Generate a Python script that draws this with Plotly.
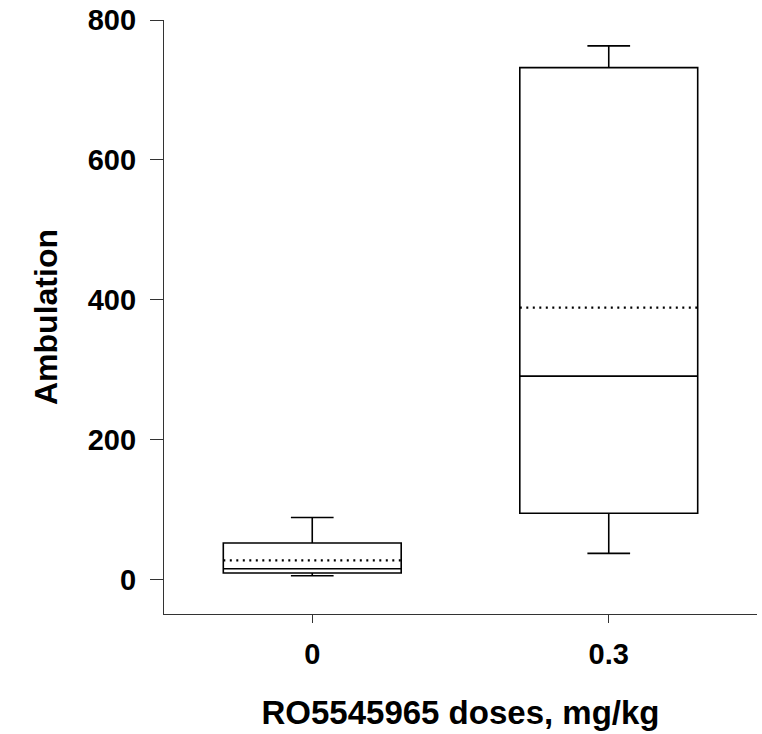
import plotly.graph_objects as go

doses = ["0", "0.3"]
lower = [5.7, 37.6]
q1 = [9.5, 95]
median = [15.7, 291]
q3 = [52.4, 732]
upper = [89, 763]
mean = [27.6, 389]

FONT = "Liberation Sans, Arial, sans-serif"
BOX_WIDTH = 0.6

fig = go.Figure(go.Box(
    x=doses, q1=q1, median=median, q3=q3,
    lowerfence=lower, upperfence=upper,
    boxmean=False, width=BOX_WIDTH, whiskerwidth=0.24,
    fillcolor="rgba(0,0,0,0)", line=dict(color="black", width=1.6),
    boxpoints=False, hoverinfo="y",
))

# dotted mean lines spanning each box
for i, m in enumerate(mean):
    fig.add_shape(
        type="line", xref="x", yref="y",
        x0=i - BOX_WIDTH / 2, x1=i + BOX_WIDTH / 2, y0=m, y1=m,
        line=dict(color="black", width=2.2, dash="2px,4.5px"),
    )

fig.update_layout(
    width=762, height=734,
    margin=dict(l=164, r=5, t=20, b=120, autoexpand=False),
    plot_bgcolor="white", paper_bgcolor="white",
    showlegend=False,
    font=dict(family=FONT, color="black"),
)
fig.update_xaxes(
    type="category", range=[-0.5, 1.5],
    showline=True, linecolor="#333", linewidth=1.3,
    ticks="outside", ticklen=8, tickcolor="#333", tickwidth=1.3,
    tickfont=dict(family=FONT, size=29, weight="bold"),
    ticklabelstandoff=6,
    showgrid=False, zeroline=False,
    title=dict(text="<b>RO5545965 doses, mg/kg</b>", font=dict(family=FONT, size=33, weight="bold"), standoff=31),
    automargin=False,
)
fig.update_yaxes(
    range=[-49, 800], tickvals=[0, 200, 400, 600, 800],
    showline=True, linecolor="#333", linewidth=1.3,
    ticks="outside", ticklen=13, tickcolor="#333", tickwidth=1.3,
    tickfont=dict(family=FONT, size=29, weight="bold"),
    ticklabelstandoff=8,
    showgrid=False, zeroline=False,
    title=dict(text="<b>Ambulation</b>", font=dict(family=FONT, size=32, weight="bold"), standoff=20),
    automargin=False,
)

fig.write_html(
    "out.html",
    config={"displayModeBar": False},
    post_script="document.body.style.margin='0';document.body.style.padding='0';",
)
